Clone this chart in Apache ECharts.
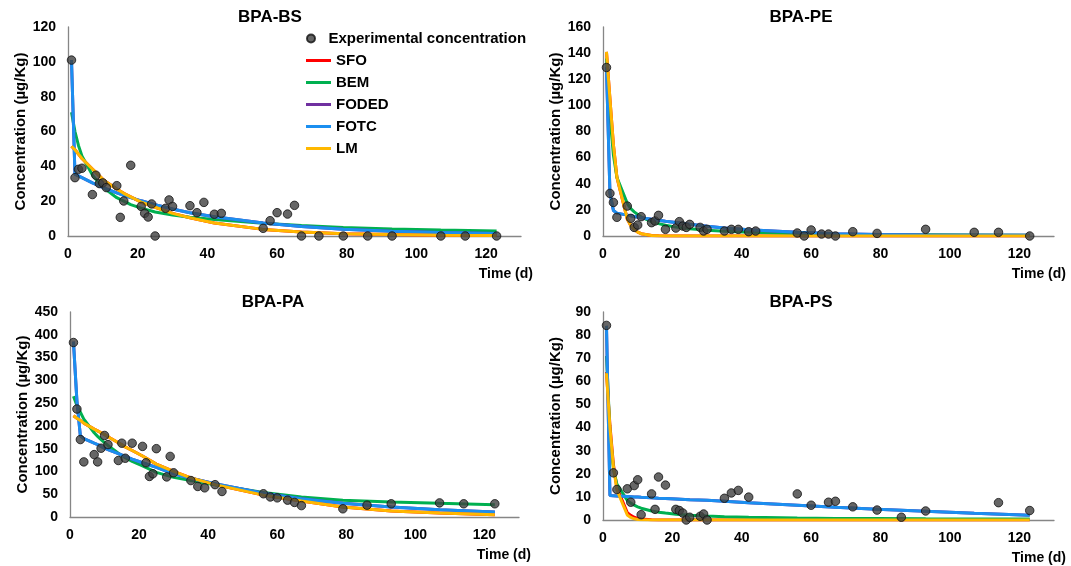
<!DOCTYPE html>
<html>
<head>
<meta charset="utf-8">
<script src="https://cdn.jsdelivr.net/npm/echarts@6/dist/echarts.min.js"></script>
<style>
html, body { margin: 0; padding: 0; background: #fff; }
#chart { width: 1071px; height: 566px; }
</style>
</head>
<body>
<div id="chart"></div>
<script>
// sampling days (d)
var days = [1,2,3,4,7,8,9,10,11,14,15,16,18,21,22,23,24,25,28,29,30,35,37,39,42,44,56,58,60,63,65,67,72,79,86,93,107,114,123];

// experimental concentration, one value per day (null = no sample)
var expBS = [101,33.5,38.3,38.9,23.8,34.9,30.1,30.5,27.8,28.9,10.7,20.1,40.6,17,13,10.9,18.4,0,15.9,20.7,17,17.4,13.4,19.3,12.5,13,4.4,8.8,13.4,12.6,17.6,0,0,0,0,0,0,0,0];
var expPE = [129,32.6,25.7,14.3,22.9,13.5,6.6,8.4,14.8,10.2,11.5,15.8,5.1,6.1,11,7.6,6.6,8.9,6.6,3.8,5.1,3.8,5.1,5.1,3.3,3.8,2.3,0,4.6,1.5,1.5,0,3.3,2,null,5.1,2.8,2.8,0];
var expPA = [383,237,170,121,137,121,151,179,159,124,162,129,162,155,119,89,95,150,88,133,97,80,67,64,71,56,51,44,42,37,32,25,null,18,26,29,31,29,29];
var expPS = [84.2,null,20.4,13.2,13.5,7.7,14.9,17.4,2.3,11.3,4.6,18.6,15.1,4.6,4.1,3,0,1.2,1.6,2.6,0,9.4,11.7,12.8,9.9,null,11.3,null,6.4,null,7.7,8.1,5.7,4.3,1.2,3.9,null,7.5,4.1];

// fitted model curves, read at these days
var curveDays = [1,2,3,4,7,8,9,10,11,14,16,18,21,25,30,35,42,56,67,79,93,107,123];

var sfoBS  = [51.5,49.5,47,44.5,38.5,36.5,34.5,32.5,31,27,24.5,22.5,19.5,16.5,13,10.5,7.5,3.8,2.3,1.3,0.8,0.5,0.3];
var bemBS  = [71,60,52,46,35,32.5,30,28,26.5,22,20,18,16,13.8,12,10.8,9.5,7.3,6,4.9,4,3.4,2.9];
var fodedBS = [101,35.5,34.5,33.5,30.5,29.6,28.7,27.9,27.1,24.8,23.4,22,20.2,18,15.5,13.4,11,7.5,5.4,3.9,2.7,2,1.4];
var fotcBS = [101,35.5,34.5,33.5,30.5,29.6,28.7,27.9,27.1,24.8,23.4,22,20.2,18,15.5,13.4,11,7.5,5.4,3.9,2.7,2,1.4];
var lmBS   = [51.5,49.5,47,44.5,38.5,36.5,34.5,32.5,31,27,24.5,22.5,19.5,16.5,13,10.5,7.5,3.8,2.3,1.3,0.8,0.5,0.3];

var sfoPE  = [141,105,70,45,13,8,5,3,1.8,0.4,0.15,0.05,0,0,0,0,0,0,0,0,0,0,0];
var bemPE  = [136,92,62,45,25,21,18.5,16.5,14.5,11,9.5,8.2,6.8,5.5,4.4,3.6,2.8,1.9,1.4,1.1,0.9,0.75,0.6];
var fodedPE = [129,33,19.5,17.5,16,15.5,15,14.5,14,12.8,12,11.3,10.3,9,7.5,6.2,4.7,2.8,1.8,1.2,0.8,0.6,0.5];
var fotcPE = [129,33,19.5,17.5,16,15.5,15,14.5,14,12.8,12,11.3,10.3,9,7.5,6.2,4.7,2.8,1.8,1.2,0.8,0.6,0.5];
var lmPE   = [141,105,70,45,13,8,5,3,1.8,0.4,0.15,0.05,0,0,0,0,0,0,0,0,0,0,0];

var sfoPA  = [222,217,212,206,193,189,185,181,176,163,154,146,134,116,100,86,71,48,35,22,13,9,5];
var bemPA  = [265,245,230,215,185,177,170,163,157,140,130,122,112,98,87,80,71,54,44,37,33,30,27];
var fodedPA = [385,255,178,172,162,159,155,151,148,139,133,127,119,109,95,85,73,52,40,30,22,16,11];
var fotcPA = [385,255,178,172,162,159,155,151,148,139,133,127,119,109,95,85,73,52,40,30,22,16,11];
var lmPA   = [222,217,212,206,193,189,185,181,176,163,154,146,134,116,100,86,71,48,35,22,13,9,5];

var sfoPS  = [64,41,24,14,3.2,2,1.2,0.7,0.4,0.1,0.05,0,0,0,0,0,0,0,0,0,0,0,0];
var bemPS  = [71,38,22,15.5,8.5,7.3,6.4,5.7,5.1,3.9,3.4,3,2.5,2.1,1.7,1.4,1.15,0.85,0.7,0.6,0.5,0.45,0.4];
var fodedPS = [84,10.6,10.5,10.4,10.2,10.1,10,9.9,9.8,9.6,9.4,9.3,9.1,8.8,8.5,8.1,7.5,6.4,5.5,4.7,3.8,2.9,2.1];
var fotcPS = [84,10.6,10.5,10.4,10.2,10.1,10,9.9,9.8,9.6,9.4,9.3,9.1,8.8,8.5,8.1,7.5,6.4,5.5,4.7,3.8,2.9,2.1];
var lmPS   = [63.5,40,23,13,2.2,1.1,0.5,0.25,0.12,0.02,0,0,0,0,0,0,0,0,0,0,0,0,0];

var panelTitles = ["BPA-BS","BPA-PE","BPA-PA","BPA-PS"];
var yMax = [120,160,450,90];
var yStep = [20,20,50,10];
var modelNames = ["SFO","BEM","FODED","FOTC","LM"];
var modelColors = ["#FF0000","#00B050","#7030A0","#1B8FF0","#FFB800"];

var panels = [
  {exp: expBS, models: [sfoBS, bemBS, fodedBS, fotcBS, lmBS]},
  {exp: expPE, models: [sfoPE, bemPE, fodedPE, fotcPE, lmPE]},
  {exp: expPA, models: [sfoPA, bemPA, fodedPA, fotcPA, lmPA]},
  {exp: expPS, models: [sfoPS, bemPS, fodedPS, fotcPS, lmPS]}
];

var FONT = "'Liberation Sans', Arial, sans-serif";

var grids = [
  {left: 68, top: 27, width: 453, height: 209},
  {left: 603, top: 27, width: 451, height: 209},
  {left: 70, top: 312, width: 449, height: 205},
  {left: 603, top: 312, width: 451, height: 208}
];
// where the panel titles sit (centre x)
var titleX = [270, 801, 273, 801];

function pairs(xs, ys){
  var out = [];
  for(var i=0;i<xs.length;i++){
    if(ys[i] !== null) out.push([xs[i], ys[i]]);
  }
  return out;
}

var xAxes = [], yAxes = [], series = [], graphics = [];
for(var p=0;p<4;p++){
  xAxes.push({
    gridIndex: p, type: 'value', min: 0, max: 130, interval: 20,
    axisLine: {lineStyle: {color: '#868686', width: 1.3}},
    axisTick: {show: false},
    splitLine: {show: false},
    axisLabel: {showMaxLabel: false, color: '#000', fontWeight: 'bold', fontSize: 14, fontFamily: FONT, margin: 11}
  });
  yAxes.push({
    gridIndex: p, type: 'value', min: 0, max: yMax[p], interval: yStep[p],
    name: 'Concentration (µg/Kg)', nameLocation: 'middle', nameGap: p%2==0 ? 38 : 40,
    nameTextStyle: {color: '#000', fontWeight: 'bold', fontSize: 15, fontFamily: FONT},
    axisLine: {show: true, lineStyle: {color: '#868686', width: 1.3}},
    axisTick: {show: false},
    splitLine: {show: false},
    axisLabel: {color: '#000', fontWeight: 'bold', fontSize: 14, fontFamily: FONT, margin: 12}
  });
  for(var m=0;m<5;m++){
    series.push({
      name: modelNames[m], type: 'line', xAxisIndex: p, yAxisIndex: p,
      data: pairs(curveDays, panels[p].models[m]),
      showSymbol: false, symbol: 'none', color: modelColors[m],
      lineStyle: {width: 3, color: modelColors[m]},
      z: 2
    });
  }
  series.push({
    name: 'Experimental concentration', type: 'scatter', xAxisIndex: p, yAxisIndex: p,
    data: pairs(days, panels[p].exp),
    symbolSize: 8.5,
    itemStyle: {color: '#404040', borderColor: '#111', borderWidth: 1},
    z: 3
  });
  var g = grids[p];
  graphics.push({
    type: 'text', x: titleX[p], y: g.top - 10,
    style: {text: panelTitles[p], fill: '#000', font: 'bold 17px ' + FONT, align: 'center', verticalAlign: 'middle'}
  });
  graphics.push({
    type: 'text', x: g.left + g.width + 12, y: g.top + g.height + 38,
    style: {text: 'Time (d)', fill: '#000', font: 'bold 14px ' + FONT, align: 'right', verticalAlign: 'middle'}
  });
}

var chart = echarts.init(document.getElementById('chart'));
chart.setOption({
  backgroundColor: '#FFFFFF',
  animation: false,
  grid: grids,
  xAxis: xAxes,
  yAxis: yAxes,
  legend: [
    {
      data: ['Experimental concentration'], icon: 'circle',
      left: 301, top: 26, itemWidth: 25, itemHeight: 8,
      textStyle: {color: '#000', fontWeight: 'bold', fontSize: 15, fontFamily: FONT, lineHeight: 15}
    },
    {
      data: modelNames, icon: 'rect', orient: 'vertical',
      left: 301, top: 48, itemWidth: 25, itemHeight: 3, itemGap: 7,
      textStyle: {color: '#000', fontWeight: 'bold', fontSize: 15, fontFamily: FONT, lineHeight: 15}
    }
  ],
  graphic: graphics,
  series: series
});
</script>
</body>
</html>
